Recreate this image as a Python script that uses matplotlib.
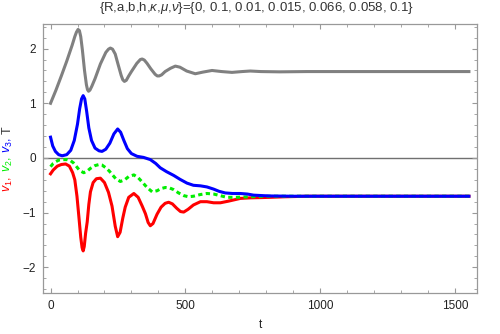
import matplotlib
matplotlib.use("Agg")
import matplotlib.pyplot as plt
from matplotlib.ticker import MultipleLocator

plt.rcParams['font.family'] = ['Liberation Sans', 'DejaVu Sans']
plt.rcParams['mathtext.fontset'] = 'custom'
plt.rcParams['mathtext.rm'] = 'Liberation Sans'
plt.rcParams['mathtext.it'] = 'Liberation Sans:italic'
plt.rcParams['mathtext.bf'] = 'Liberation Sans:bold'

# T (gray)
t_T = [0, 20, 40, 60, 80, 90, 96, 102, 107, 112, 118, 126, 133, 137, 141, 146, 153,
       165, 185, 205, 215, 222, 230, 240, 250, 262, 268, 274, 281, 290, 300, 320,
       333, 340, 348, 358, 372, 388, 396, 403, 412, 425, 445, 463, 480, 505, 537,
       565, 599, 635, 673, 710, 741, 780, 850, 950, 1100, 1552]
T = [1.00, 1.24, 1.50, 1.77, 2.06, 2.22, 2.30, 2.35, 2.33, 2.22, 1.98, 1.60, 1.34,
     1.25, 1.22, 1.24, 1.31, 1.45, 1.72, 1.93, 1.99, 2.01, 1.99, 1.90, 1.72, 1.51,
     1.43, 1.40, 1.42, 1.50, 1.58, 1.73, 1.80, 1.81, 1.79, 1.73, 1.63, 1.53, 1.50,
     1.50, 1.52, 1.58, 1.64, 1.68, 1.66, 1.59, 1.54, 1.57, 1.60, 1.58, 1.565, 1.58,
     1.59, 1.58, 1.575, 1.58, 1.58, 1.58]

# v1 (red)
t_v1 = [0, 10, 25, 40, 56, 70, 82, 90, 98, 105, 112, 117, 121, 125, 130, 136, 142,
        148, 158, 170, 185, 200, 215, 228, 240, 249, 258, 268, 277, 290, 309, 325,
        340, 352, 362, 370, 380, 395, 410, 425, 438, 452, 468, 482, 494, 510, 530,
        556, 580, 605, 630, 660, 704, 740, 780, 815, 870, 950, 1552]
v1 = [-0.29, -0.22, -0.15, -0.12, -0.11, -0.15, -0.27, -0.40, -0.70, -1.07, -1.45,
      -1.64, -1.70, -1.62, -1.38, -1.17, -0.85, -0.62, -0.45, -0.38, -0.37, -0.45,
      -0.63, -0.88, -1.25, -1.44, -1.36, -1.10, -0.90, -0.72, -0.65, -0.72, -0.88,
      -1.02, -1.18, -1.24, -1.20, -1.03, -0.90, -0.83, -0.81, -0.84, -0.92, -0.98,
      -0.99, -0.94, -0.86, -0.80, -0.80, -0.82, -0.82, -0.79, -0.74, -0.73, -0.725,
      -0.72, -0.71, -0.70, -0.70]

# v2 (green, dotted)
t_v2 = [0, 10, 19, 30, 45, 60, 74, 85, 95, 108, 123, 136, 148, 165, 180, 191, 205,
        218, 228, 242, 259, 275, 290, 309, 325, 340, 358, 377, 395, 410, 426, 442,
        457, 475, 495, 512, 530, 555, 580, 605, 630, 654, 690, 741, 800, 1552]
v2 = [-0.16, -0.10, -0.07, -0.04, -0.03, -0.03, -0.05, -0.09, -0.15, -0.23, -0.27,
      -0.24, -0.19, -0.14, -0.12, -0.13, -0.18, -0.24, -0.30, -0.38, -0.43, -0.40,
      -0.34, -0.31, -0.36, -0.44, -0.54, -0.62, -0.60, -0.56, -0.54, -0.55, -0.58,
      -0.64, -0.69, -0.71, -0.70, -0.67, -0.65, -0.66, -0.69, -0.72, -0.72, -0.71,
      -0.70, -0.70]

# v3 (blue)
t_v3 = [0, 8, 18, 30, 43, 60, 75, 88, 100, 108, 115, 121, 127, 134, 142, 152, 165,
        180, 191, 205, 220, 235, 249, 260, 272, 285, 300, 321, 345, 370, 390, 407,
        430, 457, 480, 506, 530, 556, 580, 605, 625, 648, 675, 704, 730, 753, 790,
        815, 900, 1552]
v3 = [0.38, 0.22, 0.12, 0.06, 0.04, 0.06, 0.14, 0.32, 0.62, 0.90, 1.08, 1.14, 1.08,
      0.85, 0.55, 0.32, 0.18, 0.13, 0.12, 0.16, 0.27, 0.44, 0.53, 0.47, 0.32, 0.17,
      0.08, 0.03, 0.01, -0.03, -0.10, -0.18, -0.25, -0.32, -0.39, -0.46, -0.50,
      -0.51, -0.53, -0.57, -0.61, -0.64, -0.65, -0.65, -0.66, -0.68, -0.69, -0.695,
      -0.70, -0.70]

title = r"{R,a,b,h,$\kappa$,$\mu$,$\nu$}={0, 0.1, 0.01, 0.015, 0.066, 0.058, 0.1}"
ylabel_parts = [(r"$v_1$,", "#ff0000"), (r"$v_2$,", "#00ee00"),
                (r"$v_3$,", "#0000ff"), ("T", "#333333")]

fig = plt.figure(figsize=(5, 3.34), dpi=100)
ax = fig.add_axes([43 / 500, 1 - 293 / 334, 434 / 500, 269 / 334])

lw = 2.2
ax.axhline(0, color="#707070", lw=1.0, zorder=1)
ax.plot(t_T, T, color="#808080", lw=lw, solid_joinstyle="round")
ax.plot(t_v1, v1, color="#ff0000", lw=lw, solid_joinstyle="round")
ax.plot(t_v2, v2, color="#00ee00", lw=lw, linestyle=(0, (1.4, 1.1)))
ax.plot(t_v3, v3, color="#0000ff", lw=lw, solid_joinstyle="round")

ax.set_xlim(-28, 1582)
ax.set_ylim(-2.47, 2.45)
ax.xaxis.set_major_locator(MultipleLocator(500))
ax.xaxis.set_minor_locator(MultipleLocator(100))
ax.yaxis.set_major_locator(MultipleLocator(1))
ax.yaxis.set_minor_locator(MultipleLocator(0.2))

frame_c = "#999999"
for s in ax.spines.values():
    s.set_color(frame_c)
    s.set_linewidth(0.9)
ax.tick_params(which="both", direction="in", top=True, right=True,
               color=frame_c, labelcolor="#222222", labelsize=8.5, pad=5)
ax.tick_params(which="major", length=3.5, width=0.8)
ax.tick_params(which="minor", length=2, width=0.6)
ax.set_yticks([-2, -1, 0, 1, 2])
ax.set_yticklabels(["\u22122", "\u22121", "0", "1", "2"])

ax.set_xlabel("t", fontsize=8.5, color="#222222", labelpad=5)
fig.text(257 / 500, 1 - 8 / 334, title, ha="center", va="center",
         fontsize=9.5, color="#333333")

# multicolour rotated y label, stacked bottom to top
fig.canvas.draw()
r = fig.canvas.get_renderer()
texts = []
for s, c in ylabel_parts:
    txt = fig.text(0, 0, s, color=c, fontsize=9, rotation=90,
                   rotation_mode="anchor", ha="left", va="baseline",
                   transform=None)
    texts.append(txt)
gap = 3.5
heights = [t.get_window_extent(r).height for t in texts]
total = sum(heights) + gap * (len(texts) - 1)
x_px = 11
y_mid = 334 - 159
y = y_mid - total / 2
for txt, h in zip(texts, heights):
    txt.set_position((x_px, y))
    y += h + gap

fig.savefig("out.png", dpi=100)
